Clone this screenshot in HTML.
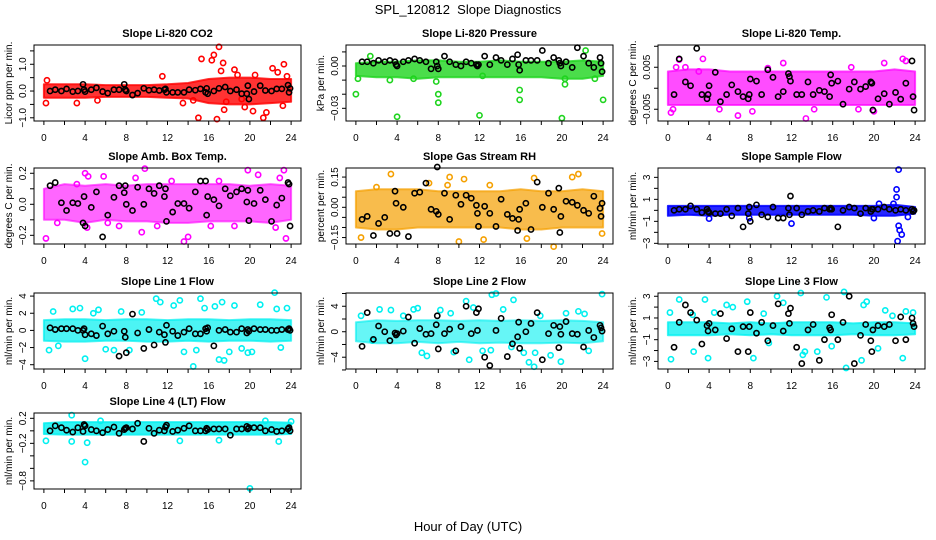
<!DOCTYPE html>
<html><head><meta charset="utf-8"><style>
html,body{margin:0;padding:0;background:#fff;}
svg{display:block;font-family:"Liberation Sans",sans-serif;}
</style></head><body>
<svg id="chart" width="936" height="540" viewBox="0 0 936 540" xmlns="http://www.w3.org/2000/svg">
<text x="468" y="14" text-anchor="middle" font-size="13">SPL_120812&#160; Slope Diagnostics</text>
<text x="468" y="531" text-anchor="middle" font-size="13">Hour of Day (UTC)</text>
</svg>
<script>
const blackHours=[0.6,1.1,1.7,2.2,2.8,3.3,3.8,3.9,4.0,4.6,5.1,5.7,6.2,6.8,7.3,7.8,7.9,8.0,8.6,9.1,9.7,10.2,10.7,11.2,11.7,11.8,11.9,12.5,13.0,13.6,14.1,14.7,15.2,15.7,15.8,15.9,16.5,17.0,17.6,18.1,18.7,19.2,19.7,19.8,19.9,20.4,21.0,21.5,22.1,22.6,23.1,23.7,23.8,23.9];
const bandHours=[0,2,4,6,8,10,12,14,16,18,20,22,24];
const xTicks=[0,2,4,6,8,10,12,14,16,18,20,22,24];
const xLabels=[0,4,8,12,16,20,24];

const p1Black=[0,0.05,0,0.08,-0.02,0,0.25,0.05,-0.02,0.05,0.12,-0.02,-0.08,0.05,0.05,0.25,0.05,0,-0.15,-0.08,0.1,0.03,0.05,0.02,0.05,0.08,-0.05,-0.05,-0.05,-0.05,0.05,0.03,0.08,-0.05,0.1,-0.1,0,0.1,0.15,0,0.05,-0.1,-0.1,0.2,-0.3,-0.02,0.2,0.02,0,0.08,0.08,0.22,-0.05,0.1];
const p1Lo=[-0.25,-0.25,-0.25,-0.22,-0.22,-0.22,-0.25,-0.28,-0.45,-0.5,-0.5,-0.45,-0.4];
const p1Hi=[0.25,0.25,0.25,0.22,0.22,0.22,0.25,0.3,0.45,0.5,0.5,0.45,0.45];
const p1OutX=[0.2,0.3,3.2,5.2,11.5,13.5,15,15.3,16.3,16.5,17,16.8,17.2,17.4,17.5,18.5,18.8,19.5,20.3,20.5,21.3,21.6,22.2,22.7,23.3,23.2,23.6,19.2,17.7,14.5];
const p1OutY=[-0.45,0.4,-0.45,-0.35,0.55,-0.45,-1.0,1.2,1.15,1.35,1.65,-1.05,0.75,1.05,-0.7,0.8,0.6,-0.6,-0.75,0.6,-1.0,-0.8,0.85,0.7,1.0,-0.55,0.55,-0.3,-0.4,-0.35];

const p2Black=[0.003,0.003,0.002,0.004,0.003,0.004,0.003,0.001,0,0.003,0.004,0.005,0.004,0.003,-0.002,0.003,0,-0.002,0.007,0.003,0.001,0,0.003,0.002,0.001,0,0.001,0.007,0.001,0.006,0.004,0.001,0.005,0.008,0.001,-0.003,0.004,0.004,0.004,0.011,0.002,0.006,0.004,0.002,0,0.003,-0.001,0.013,0.007,0.002,-0.001,0.006,0.002,-0.004];
const p2Lo=[-0.007,-0.008,-0.008,-0.009,-0.008,-0.008,-0.008,-0.008,-0.008,-0.008,-0.009,-0.009,-0.007];
const p2Hi=[0.002,0.003,0.003,0.004,0.004,0.003,0.003,0.004,0.003,0.003,0.003,0.004,0.003];
const p2OutX=[0,0.2,4,3.3,7.8,8,8,12,15.9,15.9,20,20.3,20.3,23.2,24,22.3,1.4,12.3,5.6];
const p2OutY=[-0.02,-0.009,-0.036,-0.01,-0.011,-0.02,-0.026,-0.035,-0.017,-0.024,-0.037,-0.013,-0.009,-0.009,-0.024,0.011,0.007,-0.007,-0.009];

const p3Black=[-0.0015,0.007,0.0015,0.0006,0.0095,-0.0015,-0.0025,-0.0015,0.0006,0.0038,-0.0032,-0.0015,0.0008,-0.0008,-0.002,-0.0025,-0.0015,0.0022,0.0017,-0.0015,0.0044,0.0026,-0.002,-0.0008,0.0035,0.0028,0.0017,-0.0015,-0.0015,0.0015,-0.0015,-0.0005,-0.0008,-0.002,0.0032,0.0012,0.0017,-0.0038,-0.0002,0.0015,-0.0002,0.0004,0.0015,0.0012,-0.0052,-0.0025,-0.0013,-0.0038,-0.001,-0.0026,0.0012,0.0065,-0.002,-0.0052];
const p3Lo=[-0.004,-0.004,-0.004,-0.004,-0.004,-0.004,-0.004,-0.004,-0.004,-0.004,-0.004,-0.004,-0.004];
const p3Hi=[0.004,0.0045,0.0045,0.004,0.004,0.004,0.004,0.004,0.004,0.004,0.004,0.0045,0.004];
const p3OutX=[0.3,0.5,1.1,1.7,3.4,6.8,9.7,11.2,13.4,17.8,21,22.8,23.1,20,14.2,8.2,5,0.8,18.5,3];
const p3OutY=[-0.0058,-0.005,0.0068,0.005,0.007,-0.0065,0.0048,0.006,-0.0072,0.005,0.006,0.007,0.0065,-0.0055,-0.005,-0.0055,-0.005,0.005,-0.005,0.004];

const p4Black=[0.12,0.14,0.01,-0.04,0.01,0.005,-0.12,0.05,-0.14,-0.02,0.08,-0.21,-0.07,0.045,0.12,0.075,0.12,0,-0.04,0.11,0,0.1,0.07,0.12,0.05,0.1,-0.11,-0.05,0.005,0.005,-0.025,0.08,0.15,0.15,-0.07,0.05,0.03,-0.01,0.1,0.055,0.08,0.1,0.015,0.09,-0.105,0.005,0.09,0.03,-0.11,-0.005,0.04,0.14,0.13,-0.14];
const p4Lo=[-0.1,-0.1,-0.12,-0.1,-0.11,-0.11,-0.12,-0.12,-0.11,-0.11,-0.11,-0.12,-0.1];
const p4Hi=[0.1,0.13,0.12,0.13,0.12,0.13,0.13,0.13,0.13,0.13,0.12,0.13,0.12];
const p4OutX=[0.2,4,4.3,4.2,5.8,9.8,9.5,13.6,14,19.8,20.8,22.9,23.3,23.5,22.5,3.2,7.3,11,16.2,18.5,1.3,8.9,12.4,17,6.2];
const p4OutY=[-0.22,0.2,0.18,-0.15,0.18,0.23,-0.18,-0.24,-0.21,0.22,0.19,0.17,0.22,-0.22,-0.15,0.13,-0.14,-0.14,-0.14,-0.14,-0.12,0.17,0.15,0.15,-0.12];

const p5Black=[-0.06,-0.045,-0.14,-0.08,-0.05,-0.13,0.08,0.02,-0.13,0,-0.145,0.07,0.075,0.12,-0.01,-0.02,0.2,-0.035,0.07,-0.06,0.06,0.015,0.06,0.045,0.01,-0.03,-0.095,0.005,-0.03,-0.095,0.04,-0.035,-0.055,-0.115,-0.06,-0.01,0.02,-0.11,0.125,0,0.07,-0.01,0.095,-0.125,-0.045,0.03,0.025,0.01,-0.015,-0.03,0.055,-0.005,-0.045,0.02];
const p5Lo=[-0.1,-0.11,-0.11,-0.1,-0.1,-0.1,-0.1,-0.1,-0.11,-0.11,-0.1,-0.1,-0.1];
const p5Hi=[0.08,0.09,0.09,0.09,0.08,0.08,0.08,0.08,0.09,0.08,0.08,0.09,0.08];
const p5OutX=[3.4,9.1,10.5,10,12.4,17.3,19.2,21,21.6,0.5,16.6,23.9,7.1,8.9,2.0,13];
const p5OutY=[0.165,0.15,0.14,-0.17,-0.16,0.145,-0.195,0.15,0.165,-0.15,-0.155,-0.13,0.12,0.11,0.1,0.11];

const p6Black=[0,0.1,0.1,0.4,0.1,-0.2,0.1,-0.1,-0.2,-0.3,-0.3,0.1,-0.5,0.2,-1.5,-0.3,0.3,-1.0,0.5,-0.4,-0.6,0.3,-0.7,-0.7,0.2,-0.4,1.3,0.2,-0.4,-0.1,0,-0.1,0.2,0.1,0.2,0.1,-1.5,0,0.3,0.2,-0.3,0.2,-0.1,0.1,0.1,0.1,0.3,0.1,0,0.1,0,0.1,-0.1,0];
const p6Lo=[-0.5,-0.4,-0.5,-0.4,-0.4,-0.4,-0.4,-0.4,-0.4,-0.4,-0.5,-0.5,-0.3];
const p6Hi=[0.4,0.4,0.4,0.4,0.4,0.4,0.4,0.4,0.4,0.4,0.4,0.5,0.3];
const p6OutX=[4,20,21.9,22.2,22.2,22.4,22.3,22.4,22.5,22.7,12,20.5,7.9,23.3];
const p6OutY=[-0.75,-0.7,0.6,1.2,1.9,3.7,-2.8,-1.4,-1.8,-2.2,-1.2,0.6,-0.7,-0.6];

const p7Black=[0.3,0.1,0.2,0.2,0.2,0,0,0.2,-0.5,-0.4,-0.6,0.5,-0.4,-0.1,-3.0,-0.1,-0.8,-2.6,1.9,-0.3,-2.1,0.1,-1.7,-0.2,-0.5,-1.4,0.6,-0.1,-0.6,-0.2,0.2,-0.4,-0.4,0.2,-0.1,0.3,-1.8,0,0.1,-0.2,-0.2,0.2,-0.3,0.1,-0.1,0.2,0.1,0.1,0,0,0.1,0.1,0.2,0];
const p7Lo=[-1.2,-1.3,-1.3,-1.2,-1.2,-1.3,-1.3,-1.2,-1.3,-1.2,-1.2,-1.3,-1.2];
const p7Hi=[1.2,1.3,1.3,1.2,1.3,1.3,1.2,1.3,1.3,1.2,1.3,1.3,1.2];
const p7OutX=[0.5,0.9,2.8,3.5,4,4.8,5.3,6.8,7.5,8.3,9.5,10.9,11.3,12.6,13.2,13.6,14.5,14.8,15.2,15.6,16.6,17,17.3,17.5,18,18.5,19.2,19.8,20.2,21,22.4,22.6,23,23.6,1.4,6.0];
const p7OutY=[-2.3,2.2,2.5,2.6,-3.3,2.0,2.4,-2.3,2.2,-2.3,2.1,3.7,3.3,2.9,3.5,-2.5,-4.2,-2.3,3.7,2.6,2.8,-3.4,3.3,-3.5,-2.5,2.9,-2.1,-2.6,-2.5,3.0,4.4,2.5,-2.0,2.6,-1.8,-2.2];

const p8Black=[-2.3,3.0,-1.2,0.9,0,-1.4,-0.2,-0.5,-0.3,0.1,2.3,-1.8,0.5,-0.4,-0.3,1.1,2.5,-2.7,-0.3,0.4,-3.0,0.8,4.0,-0.3,3.0,0.2,3.6,-4.0,-5.3,0.2,2.1,-3.9,-1.9,-0.8,1.5,-2.6,0,1.3,3.0,-4.4,-0.3,1.0,-2.5,0.8,-0.4,1.6,-0.3,-0.4,-2.4,0.2,-0.9,1.0,0.6,0.1];
const p8Lo=[-1.5,-1.8,-1.8,-1.6,-1.8,-1.6,-1.8,-1.7,-1.8,-1.8,-1.7,-1.8,-1.5];
const p8Hi=[1.5,1.8,1.7,1.8,1.8,1.7,1.8,1.7,1.8,1.7,1.8,1.7,1.5];
const p8OutX=[0.5,2.3,3.4,4.6,5.6,6.4,6.9,8.2,9.5,10.7,11,11.4,12.3,13.1,13.2,13.6,14.3,15.3,16.3,16.8,17.3,17.4,17.9,18.9,19.9,20.4,21.6,22.2,22.6,23.9,1.6,6.0,9.2,15.1];
const p8OutY=[2.5,3.5,3.4,2.5,3.5,-3.3,-3.8,3.4,-3.2,4.8,-4.4,3.8,-3.0,-2.9,5.8,6.0,3.5,5.0,-3.3,-4.8,-5.5,-3.3,2.5,-3.7,-4.7,2.9,3.2,2.8,-3.0,5.9,-1.4,3.7,2.9,-2.4];

const p9Black=[-1.7,0.6,2.2,1.5,0.8,-1.4,0.3,-0.2,0.5,-0.1,1.4,-0.9,0,-2.1,0.2,-2.1,0.2,1.5,-0.4,0.6,-1.1,0.3,2.3,-0.2,1.4,0.5,1.9,-1.7,-3.2,-0.1,0.4,-2.9,-1.0,0.1,-0.1,1.3,-1.0,0.6,3.0,-3.2,-0.6,0.4,-1.1,-2.1,-0.1,0.3,0.2,0.4,-1.1,1.1,-1.0,1.0,0.5,0.2];
const p9Lo=[-0.6,-0.6,-0.6,-0.5,-0.6,-0.5,-0.6,-0.6,-0.6,-0.5,-0.6,-0.6,-0.5];
const p9Hi=[0.6,0.6,0.6,0.5,0.6,0.5,0.6,0.6,0.6,0.5,0.6,0.6,0.5];
const p9OutX=[0.2,0.3,1.1,2.5,3.6,3.9,4.5,6.3,7.7,8.3,9.3,10.6,11.2,12.9,13.3,13.1,14.5,15.4,15.9,17.1,17.3,18.8,19.3,20.4,21.1,21.8,22.8,23.1,23.8,2.4,5.7,9.8,19.0];
const p9OutY=[1.5,-2.8,2.7,-2.1,2.7,-2.7,1.5,2.0,2.5,-2.7,1.4,3.0,2.4,3.3,-2.1,-2.4,-2.1,2.9,-1.6,3.4,-3.6,-2.9,2.5,-1.8,1.7,1.2,-2.7,1.6,1.5,1.3,2.2,-1.3,2.2];

const p10Black=[0.0,0.08,0.05,0.01,-0.02,0.05,-0.01,0.1,0.08,0.02,0.0,-0.03,0.02,0.06,-0.04,0.02,0.04,0.05,0.03,0.12,-0.17,0.04,-0.04,0.01,0.0,0.06,0.09,-0.01,0.01,0.04,0.08,0.0,0.0,0.0,0.04,0.02,0.03,0.03,0.03,-0.07,0.03,0.03,0.07,0.03,0.05,0.05,0.05,0.0,0.02,-0.01,0.0,0.03,0.05,0.0];
const p10Lo=[-0.05,-0.06,-0.06,-0.06,-0.06,-0.06,-0.06,-0.06,-0.06,-0.06,-0.06,-0.06,-0.05];
const p10Hi=[0.12,0.14,0.14,0.14,0.14,0.14,0.14,0.14,0.14,0.14,0.14,0.14,0.13];
const p10OutX=[2.7,4,20,0.2,4.2,2.7,22.8,24,5.5,13.2,17,21.5];
const p10OutY=[0.25,-0.5,-0.92,-0.16,-0.19,-0.17,-0.17,0.15,0.16,-0.16,-0.15,0.16];

const panels=[
 {title:"Slope Li-820 CO2",ylab:"Licor ppm per min.",col:"#ff0000",op:0.8,ymin:-1.12,ymax:1.72,ticks:[-1,-0.5,0,0.5,1,1.5],tl:[-1,0,1],fmt:1,black:p1Black,lo:p1Lo,hi:p1Hi,ox:p1OutX,oy:p1OutY},
 {title:"Slope Li-820 Pressure",ylab:"kPa per min.",col:"#1ed41e",op:0.8,ymin:-0.039,ymax:0.0149,ticks:[-0.03,-0.02,-0.01,0,0.01],tl:[-0.03,0],fmt:2,black:p2Black,lo:p2Lo,hi:p2Hi,ox:p2OutX,oy:p2OutY},
 {title:"Slope Li-820 Temp.",ylab:"degrees C per min.",col:"#ff00ff",op:0.7,ymin:-0.0078,ymax:0.0103,ticks:[-0.005,0,0.005,0.01],tl:[-0.005,0.005],fmt:3,black:p3Black,lo:p3Lo,hi:p3Hi,ox:p3OutX,oy:p3OutY},
 {title:"Slope Amb. Box Temp.",ylab:"degrees C per min.",col:"#ff00ff",op:0.6,ymin:-0.256,ymax:0.234,ticks:[-0.2,-0.1,0,0.1,0.2],tl:[-0.2,0,0.2],fmt:1,black:p4Black,lo:p4Lo,hi:p4Hi,ox:p4OutX,oy:p4OutY},
 {title:"Slope Gas Stream RH",ylab:"percent per min.",col:"#f5a000",op:0.7,ymin:-0.182,ymax:0.195,ticks:[-0.15,-0.1,-0.05,0,0.05,0.1,0.15],tl:[-0.15,0,0.15],fmt:2,black:p5Black,lo:p5Lo,hi:p5Hi,ox:p5OutX,oy:p5OutY},
 {title:"Slope Sample Flow",ylab:"ml/min per min.",col:"#0000ff",op:0.85,ymin:-3.06,ymax:3.85,ticks:[-3,-2,-1,0,1,2,3],tl:[-3,-1,1,3],fmt:0,black:p6Black,lo:p6Lo,hi:p6Hi,ox:p6OutX,oy:p6OutY},
 {title:"Slope Line 1 Flow",ylab:"ml/min per min.",col:"#00f0f0",op:0.7,ymin:-4.5,ymax:4.36,ticks:[-4,-2,0,2,4],tl:[-4,-2,0,2,4],fmt:0,black:p7Black,lo:p7Lo,hi:p7Hi,ox:p7OutX,oy:p7OutY},
 {title:"Slope Line 2 Flow",ylab:"ml/min per min.",col:"#00f0f0",op:0.6,ymin:-5.85,ymax:6.08,ticks:[-6,-4,-2,0,2,4,6],tl:[-4,0,4],fmt:0,black:p8Black,lo:p8Lo,hi:p8Hi,ox:p8OutX,oy:p8OutY},
 {title:"Slope Line 3 Flow",ylab:"ml/min per min.",col:"#00f0f0",op:0.75,ymin:-3.7,ymax:3.3,ticks:[-3,-2,-1,0,1,2,3],tl:[-3,-1,1,3],fmt:0,black:p9Black,lo:p9Lo,hi:p9Hi,ox:p9OutX,oy:p9OutY},
 {title:"Slope Line 4 (LT) Flow",ylab:"ml/min per min.",col:"#00f0f0",op:0.8,ymin:-0.93,ymax:0.285,ticks:[-0.8,-0.6,-0.4,-0.2,0,0.2],tl:[-0.8,-0.2,0.2],fmt:1,black:p10Black,lo:p10Lo,hi:p10Hi,ox:p10OutX,oy:p10OutY}
];
const NS="http://www.w3.org/2000/svg";
const svg=document.getElementById('chart');
const rowTops=[45,168,293,413];
function mk(tag,attrs,parent){const e=document.createElementNS(NS,tag);for(const k in attrs)e.setAttribute(k,attrs[k]);(parent||svg).appendChild(e);return e;}
function fmtNum(v,d){let s=v.toFixed(d);if(v<0)s="\u2212"+s.slice(1);return s;}
panels.forEach((p,i)=>{
 const c=i%3,r=Math.floor(i/3);
 const L=34+c*312,R=301+c*312,T=rowTops[r],B=T+76;
 const g=mk('g',{});
 
 
 const sx=v=>L+(v+0.96)/(25.92)*(R-L);
 const sy=v=>B-(v-p.ymin)/(p.ymax-p.ymin)*(B-T);
 const t=mk('text',{x:(L+R)/2,y:T-8,'text-anchor':'middle','font-size':11,'font-weight':'bold'},g);
 t.textContent=p.title;
 
 
 const yl=mk('text',{x:0,y:0,'text-anchor':'middle','font-size':10,transform:`translate(${L-22},${(T+B)/2}) rotate(-90)`},g);
 yl.textContent=p.ylab;
 
 
 let d='';
 bandHours.forEach((h,k)=>{d+=(k?'L':'M')+sx(h).toFixed(1)+','+sy(p.hi[k]).toFixed(1);});
 for(let k=bandHours.length-1;k>=0;k--)d+='L'+sx(bandHours[k]).toFixed(1)+','+sy(p.lo[k]).toFixed(1);
 const band=mk('path',{d:d+'Z',fill:p.col,'fill-opacity':p.op,stroke:p.col,'stroke-opacity':p.op,'stroke-width':2,'stroke-linejoin':'round'},g);
 
 
 p.ox.forEach((x,k)=>{
  const e=mk('circle',{cx:sx(x),cy:sy(p.oy[k]),r:2.6,fill:'none',stroke:p.col,'stroke-width':1.6},g);
  
  
 });
 p.black.forEach((v,k)=>{
  const e=mk('circle',{cx:sx(blackHours[k]),cy:sy(v),r:2.6,fill:'none',stroke:'#000','stroke-width':1.6},g);
  
  
 });
 const box=mk('rect',{x:L,y:T,width:R-L,height:B-T,fill:'none',stroke:'#000','stroke-width':1},g);
 
 
 xTicks.forEach(h=>{mk('line',{x1:sx(h),x2:sx(h),y1:B,y2:B+4,stroke:'#000'},g);});
 xLabels.forEach(h=>{const e=mk('text',{x:sx(h),y:B+20,'text-anchor':'middle','font-size':10},g);e.textContent=h;
  
  });
 p.ticks.forEach(v=>{mk('line',{x1:L-4,x2:L,y1:sy(v),y2:sy(v),stroke:'#000'},g);});
 p.tl.forEach(v=>{const e=mk('text',{x:0,y:0,'text-anchor':'middle','font-size':10,transform:`translate(${L-8},${sy(v)}) rotate(-90)`},g);e.textContent=fmtNum(v,p.fmt);
  
  });
});
</script>
</body></html>
